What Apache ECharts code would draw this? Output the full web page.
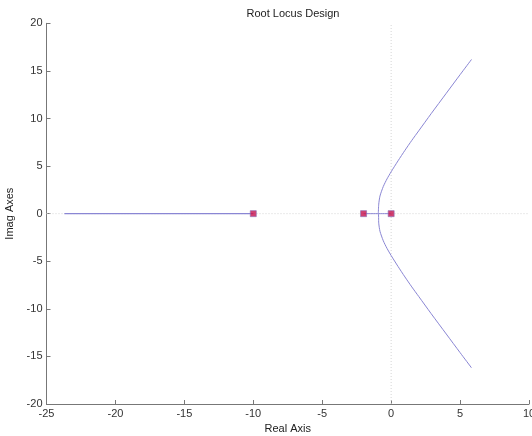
<!DOCTYPE html>
<html>
<head>
<meta charset="utf-8">
<script src="https://cdn.jsdelivr.net/npm/echarts@6/dist/echarts.min.js"></script>
<style>html,body{margin:0;padding:0;background:#fff;}#c{width:532px;height:436px;}</style>
</head>
<body>
<div id="c"></div>
<script>
// Pole locations (real axis)
const poles = [0, -2, -10];
// Upper complex branch
const upperRe = [-0.93, -0.9, -0.81, -0.57, -0.3, 0, 0.5, 1.0, 1.5, 2.0, 2.9, 4.0, 5.0, 5.83];
const upperIm = [0, 1.0, 1.85, 2.85, 3.65, 4.4, 5.55, 6.65, 7.7, 8.7, 10.5, 12.65, 14.6, 16.2];
// Lower complex branch (as seen, mirror image)
const lowerRe = [-0.93, -0.9, -0.81, -0.57, -0.3, 0, 0.5, 1.0, 1.5, 2.0, 2.9, 4.0, 5.0, 5.83];
const lowerIm = [0, -1.0, -1.85, -2.85, -3.65, -4.4, -5.55, -6.65, -7.7, -8.7, -10.5, -12.65, -14.6, -16.2];
// Real-axis branch from pole at -10 to the left end
const realBranchRe = [-10, -23.7];
const xTicks = [-25, -20, -15, -10, -5, 0, 5, 10];
const yTicks = [-20, -15, -10, -5, 0, 5, 10, 15, 20];

const branch1 = [[0, 0]].concat(upperRe.map((x, i) => [x, upperIm[i]]));
const branch2 = [[-2, 0]].concat(lowerRe.map((x, i) => [x, lowerIm[i]]));
const branch3 = realBranchRe.map(x => [x, 0]);

const lineColor = '#8a86d4';
const font = 'Liberation Sans, Arial, sans-serif';
const axisCol = '#777';

const chart = echarts.init(document.getElementById('c'));
chart.setOption({
  animation: false,
  backgroundColor: '#fff',
  title: {
    text: 'Root Locus Design', left: 288, top: 3, textAlign: 'center',
    textStyle: { fontFamily: font, fontSize: 11, fontWeight: 'normal', color: '#222' }
  },
  grid: { left: 46.5, right: 3, top: 23.3, bottom: 32, containLabel: false, outerBoundsMode: 'none' },
  xAxis: {
    type: 'value', min: xTicks[0], max: xTicks[xTicks.length - 1], interval: 5,
    name: 'Real Axis', nameLocation: 'middle', nameGap: 18,
    nameTextStyle: { fontFamily: font, fontSize: 11, color: '#222' },
    axisLine: { onZero: false, lineStyle: { color: axisCol, width: 1 } },
    axisTick: { show: true, inside: true, length: 4, lineStyle: { color: axisCol } },
    axisLabel: { fontFamily: font, fontSize: 11, color: '#333', margin: 4, showMaxLabel: true, showMinLabel: true },
    splitLine: { show: false }
  },
  yAxis: {
    type: 'value', min: yTicks[0], max: yTicks[yTicks.length - 1], interval: 5,
    name: 'Imag Axes', nameLocation: 'middle', nameGap: 26, nameRotate: 90,
    nameTextStyle: { fontFamily: font, fontSize: 11, color: '#222' },
    axisLine: { onZero: false, lineStyle: { color: axisCol, width: 1 } },
    axisTick: { show: true, inside: true, length: 4, lineStyle: { color: axisCol } },
    axisLabel: { fontFamily: font, fontSize: 11, color: '#333', margin: 4 },
    splitLine: { show: false }
  },
  series: [
    {
      type: 'line', silent: true, symbol: 'none', z: 1,
      data: [[xTicks[0], 0], [xTicks[xTicks.length - 1], 0]],
      lineStyle: { color: '#d6d6d6', width: 1, type: [1, 2] }
    },
    {
      type: 'line', silent: true, symbol: 'none', z: 1,
      data: [[0, yTicks[0]], [0, yTicks[yTicks.length - 1]]],
      lineStyle: { color: '#d6d6d6', width: 1, type: [1, 2] }
    },
    { type: 'line', data: branch1, symbol: 'none', smooth: 0.25, lineStyle: { color: lineColor, width: 1 }, z: 2 },
    { type: 'line', data: branch2, symbol: 'none', smooth: 0.25, lineStyle: { color: lineColor, width: 1 }, z: 2 },
    { type: 'line', data: branch3, symbol: 'none', lineStyle: { color: lineColor, width: 1.2 }, z: 2 },
    {
      type: 'scatter', data: poles.map(p => [p, 0]), symbol: 'rect', symbolSize: 6, z: 3,
      itemStyle: { color: '#c5104c', borderColor: '#8a70b8', borderWidth: 0.8 }
    }
  ]
});
</script>
</body>
</html>
